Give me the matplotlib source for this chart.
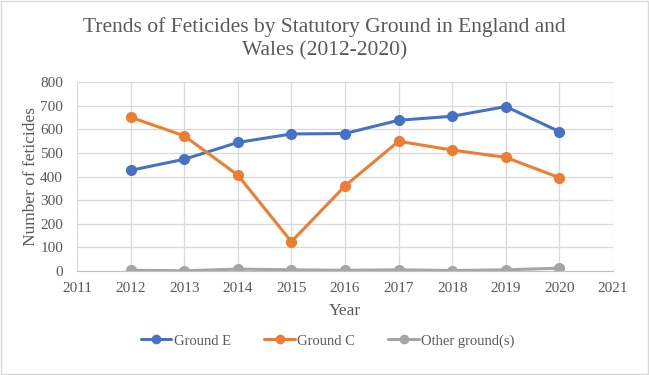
import numpy as np
import matplotlib.pyplot as plt
from matplotlib.patches import Rectangle

plt.rcParams['font.family'] = ['Liberation Serif', 'DejaVu Serif']

years = [2012, 2013, 2014, 2015, 2016, 2017, 2018, 2019, 2020]
ground_e = [426, 473, 544, 580, 582, 638, 655, 696, 590]
ground_c = [651, 572, 406, 124, 360, 549, 512, 481, 395]
other = [3, 1, 8, 5, 3, 5, 2, 5, 12]
series_names = ['Ground E', 'Ground C', 'Other ground(s)']
colors = ['#4472C4', '#ED7D31', '#A5A5A5']

txt = '#595959'
fig = plt.figure(figsize=(6.49, 3.75), dpi=100)
ax = fig.add_axes([77 / 649, 1 - 271 / 375, (613 - 77) / 649, (271 - 82) / 375])

for vals, name, c in zip([ground_e, ground_c, other], series_names, colors):
    ax.plot(years, vals, color=c, lw=2.2, marker='o', ms=7, label=name,
            solid_capstyle='round')

ax.set_xlim(2011, 2021)
ax.set_ylim(0, 800)
ax.set_xticks(range(2011, 2022))
ax.set_yticks(range(0, 801, 100))
ax.grid(True, color='#D9D9D9', lw=0.9)
ax.set_axisbelow(True)
for s in ['top', 'right', 'left']:
    ax.spines[s].set_visible(False)
ax.spines['bottom'].set_color('#BFBFBF')
ax.tick_params(length=0, colors=txt, labelsize=11)
ax.tick_params(axis='x', pad=8)
ax.tick_params(axis='y', pad=10)
ax.set_xlabel('Year', color=txt, fontsize=12.5, labelpad=6)
ax.set_ylabel('Number of feticides', color=txt, fontsize=12.5, labelpad=1)

fig.suptitle('Trends of Feticides by Statutory Ground in England and\nWales (2012-2020)',
             color=txt, fontsize=15.5, y=0.955, linespacing=1.3)

fig.legend(loc='center', bbox_to_anchor=(0.505, 1 - 341 / 375), ncol=3, frameon=False,
           fontsize=10.5, labelcolor=txt, handlelength=2.1, columnspacing=2.3,
           handletextpad=0.15, markerscale=0.85)

fig.patches.append(Rectangle((0.002, 0.003), 0.996, 0.994, transform=fig.transFigure,
                             fill=False, edgecolor='#D9D9D9', lw=1))

plt.savefig('out.png', dpi=100)
